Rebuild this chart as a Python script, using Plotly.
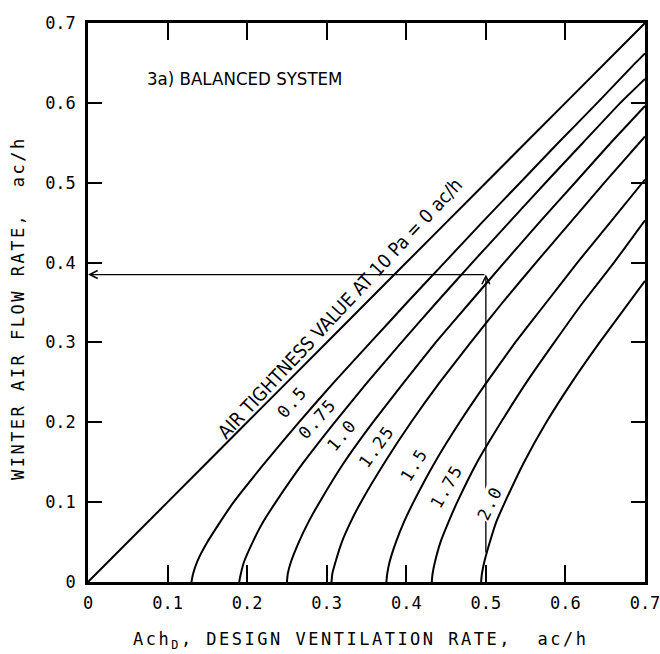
import plotly.graph_objects as go

# ---- data ----
tick_values = [0.0, 0.1, 0.2, 0.3, 0.4, 0.5, 0.6, 0.7]
tick_labels = ["0", "0.1", "0.2", "0.3", "0.4", "0.5", "0.6", "0.7"]

# air tightness 0 ac/h
ach_d_00 = [0.0, 0.1, 0.2, 0.3, 0.4, 0.5, 0.6, 0.7]
winter_00 = [0.0, 0.1, 0.2, 0.3, 0.4, 0.5, 0.6, 0.7]
# 0.5 ac/h
ach_d_05 = [0.130, 0.132, 0.137, 0.150, 0.166, 0.183, 0.223, 0.265, 0.309, 0.355,
            0.401, 0.448, 0.495, 0.543, 0.591, 0.640, 0.688, 0.700]
winter_05 = [0.0, 0.01, 0.025, 0.05, 0.075, 0.10, 0.15, 0.20, 0.25, 0.30,
             0.35, 0.40, 0.45, 0.50, 0.55, 0.60, 0.65, 0.662]
# 0.75 ac/h
ach_d_075 = [0.190, 0.192, 0.196, 0.207, 0.220, 0.236, 0.271, 0.310, 0.351, 0.394,
             0.438, 0.483, 0.529, 0.575, 0.622, 0.669, 0.700]
winter_075 = [0.0, 0.01, 0.025, 0.05, 0.075, 0.10, 0.15, 0.20, 0.25, 0.30,
              0.35, 0.40, 0.45, 0.50, 0.55, 0.60, 0.630]
# 1.0 ac/h
ach_d_10 = [0.250, 0.251, 0.255, 0.265, 0.277, 0.291, 0.322, 0.358, 0.397, 0.437,
            0.480, 0.523, 0.567, 0.612, 0.657, 0.700]
winter_10 = [0.0, 0.01, 0.025, 0.05, 0.075, 0.10, 0.15, 0.20, 0.25, 0.30,
             0.35, 0.40, 0.45, 0.50, 0.55, 0.596]
# 1.25 ac/h
ach_d_125 = [0.306, 0.307, 0.311, 0.319, 0.330, 0.343, 0.373, 0.406, 0.442, 0.481,
             0.521, 0.563, 0.606, 0.649, 0.700]
winter_125 = [0.0, 0.01, 0.025, 0.05, 0.075, 0.10, 0.15, 0.20, 0.25, 0.30,
              0.35, 0.40, 0.45, 0.50, 0.558]
# 1.5 ac/h
ach_d_15 = [0.375, 0.376, 0.379, 0.387, 0.397, 0.409, 0.436, 0.467, 0.501, 0.537,
            0.576, 0.615, 0.656, 0.700]
winter_15 = [0.0, 0.01, 0.025, 0.05, 0.075, 0.10, 0.15, 0.20, 0.25, 0.30,
             0.35, 0.40, 0.45, 0.504]
# 1.75 ac/h
ach_d_175 = [0.432, 0.433, 0.436, 0.443, 0.453, 0.464, 0.489, 0.519, 0.551, 0.586,
             0.622, 0.661, 0.700]
winter_175 = [0.0, 0.01, 0.025, 0.05, 0.075, 0.10, 0.15, 0.20, 0.25, 0.30,
              0.35, 0.40, 0.453]
# 2.0 ac/h
ach_d_20 = [0.494, 0.495, 0.498, 0.505, 0.513, 0.524, 0.548, 0.576, 0.608, 0.643,
            0.700]
winter_20 = [0.0, 0.01, 0.025, 0.05, 0.075, 0.10, 0.15, 0.20, 0.25, 0.30,
             0.377]

curve_x = [ach_d_00, ach_d_05, ach_d_075, ach_d_10, ach_d_125, ach_d_15, ach_d_175, ach_d_20]
curve_y = [winter_00, winter_05, winter_075, winter_10, winter_125, winter_15, winter_175, winter_20]
curve_names = ["0", "0.5", "0.75", "1.0", "1.25", "1.5", "1.75", "2.0"]

# worked example
example_design = 0.5
example_winter = 0.385
example_start = 0.035

# ---- label placement (layout) ----
label_pos = [(0.2562, 0.226, -49), (0.288, 0.204, -48), (0.319, 0.184, -50),
             (0.363, 0.170, -54), (0.410, 0.146, -58), (0.451, 0.120, -60),
             (0.505, 0.099, -64)]

MONO = "DejaVu Sans Mono, Liberation Mono, monospace"
NARROW = "Liberation Sans Narrow, DejaVu Sans Condensed, Liberation Sans, sans-serif"

fig = go.Figure()
for xs, ys, nm in zip(curve_x, curve_y, curve_names):
    fig.add_trace(go.Scatter(x=xs, y=ys, mode="lines", name=nm,
                             line=dict(color="black", width=2, shape="spline", smoothing=0.4),
                             showlegend=False, hoverinfo="skip"))

ann = []
# example arrows
ann.append(dict(x=example_design, y=example_winter, ax=example_design, ay=example_start,
                xref="x", yref="y", axref="x", ayref="y", text="", showarrow=True,
                arrowhead=5, arrowsize=1.2, arrowwidth=1.3, arrowcolor="black", standoff=0))
ann.append(dict(x=0, y=example_winter, ax=example_design, ay=example_winter,
                xref="x", yref="y", axref="x", ayref="y", text="", showarrow=True,
                arrowhead=5, arrowsize=1.2, arrowwidth=1.3, arrowcolor="black", standoff=0))

for (lx, ly, ang), nm in zip(label_pos, curve_names[1:]):
    ann.append(dict(x=lx, y=ly, xref="x", yref="y",
                    text='<span style="letter-spacing:1.5px">' + nm + '</span>',
                    showarrow=False, textangle=ang,
                    font=dict(family=MONO, size=17, color="black"),
                    bgcolor="white" if nm == "2.0" else None, borderpad=0))

ann.append(dict(x=0.3166, y=0.343, xref="x", yref="y",
                text="AIR TIGHTNESS VALUE AT 10 Pa = 0 ac/h", showarrow=False,
                textangle=-47, font=dict(family=NARROW, size=19, color="black")))
ann.append(dict(x=0.0716, y=0.63, xref="x", yref="y", xanchor="left",
                text="3a) BALANCED SYSTEM", showarrow=False,
                font=dict(family=NARROW, size=18.5, color="black")))

# axis titles
ann.append(dict(x=0.49, y=-0.104, xref="paper", yref="paper", xanchor="center", yanchor="middle",
                text='<span style="letter-spacing:2.5px">Ach<sub>D</sub>, DESIGN VENTILATION RATE,  ac/h</span>',
                showarrow=False, font=dict(family=MONO, size=17, color="black")))
ann.append(dict(x=-0.1257, y=0.49, xref="paper", yref="paper", xanchor="center", yanchor="middle",
                text='<span style="letter-spacing:2.5px">WINTER AIR FLOW RATE,  ac/h</span>',
                textangle=-90, showarrow=False, font=dict(family=MONO, size=17, color="black")))

axis_common = dict(range=[0, 0.7], tickvals=tick_values, ticktext=tick_labels,
                   ticks="inside", mirror="ticks", showline=True, linewidth=2.5,
                   linecolor="black", tickcolor="black", tickwidth=1.5,
                   showgrid=False, zeroline=False, automargin=False,
                   ticklabeloverflow="allow",
                   tickfont=dict(family=MONO, size=17, color="black"))

fig.update_layout(
    width=660, height=654,
    margin=dict(l=88, r=15, t=23, b=72, autoexpand=False),
    paper_bgcolor="white", plot_bgcolor="white",
    xaxis=dict(**axis_common, ticklen=17, ticklabelstandoff=4),
    yaxis=dict(**axis_common, ticklen=14, ticklabelstandoff=6),
    annotations=ann,
    showlegend=False,
)

fig.write_html("out.html", config={"displayModeBar": False},
               post_script="document.body.style.margin='0';")
